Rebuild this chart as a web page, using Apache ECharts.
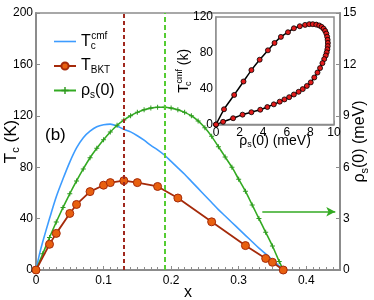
<!DOCTYPE html>
<html><head><meta charset="utf-8">
<script src="https://cdn.jsdelivr.net/npm/echarts@6/dist/echarts.min.js"></script>
<style>html,body{margin:0;padding:0;background:#fff}#c{width:374px;height:300px}</style>
</head><body><div id="c"></div>
<script>
// ---- data ----
const xGreen = [0,0.01,0.02,0.03,0.04,0.05,0.06,0.07,0.08,0.09,0.10,0.11,0.12,0.13,0.14,0.15,0.16,0.17,0.18,0.19,0.20,0.21,0.22,0.23,0.24,0.25,0.26,0.27,0.28,0.29,0.30,0.31,0.32,0.33,0.34,0.35,0.36,0.366];
const rhoS = [0,0.95,1.9,2.8,3.65,4.45,5.2,5.9,6.55,7.1,7.6,8.05,8.45,8.75,9.0,9.2,9.35,9.45,9.5,9.5,9.45,9.35,9.2,9.0,8.7,8.3,7.8,7.2,6.6,6.0,5.3,4.6,3.8,3.0,2.2,1.4,0.5,0];
const xBlue = [0,0.005,0.01,0.02,0.03,0.04,0.05,0.06,0.07,0.08,0.09,0.10,0.11,0.12,0.13,0.14,0.15,0.16,0.17,0.18,0.19,0.20,0.21,0.22,0.23,0.24,0.25,0.26,0.27,0.28,0.29,0.30,0.31,0.32,0.33,0.34,0.35,0.36,0.366];
const tcCmf = [0,12,22,40,57,71,84,95,103,108,111.5,113,113.5,112,109.5,107.5,104.5,101,97,93.5,89.5,84.5,79.5,74.5,69,63.5,58,52.5,47,42,37,32,27,22,17,12.5,8,3,0];
const xRed = [0,0.02,0.03,0.05,0.06,0.08,0.10,0.11,0.13,0.15,0.18,0.21,0.26,0.31,0.34,0.35,0.366];
const tBKT = [0,20,28.5,44,51,61,66,68,69.5,68,65,56,37.5,19,9,6,0];
const insetRho = [0,0.68,1.54,2.33,3.0,3.7,4.4,4.96,5.5,6.1,6.6,7.1,7.55,7.9,8.2,8.5,8.75,8.95,9.12,9.25,9.35,9.42,9.46,9.48,9.47,9.44,9.38,9.3,9.17,9.02,8.82,8.6,8.33,8.03,7.7,7.35,7.0,6.6,6.2,5.8,5.4,4.9,4.35,3.75,3.0,2.25,1.45,0.6,0];
const insetTc = [0,17,33,48,60.7,72.3,82.8,91,97.8,103,107.4,109.7,111.2,112,112,111.5,110.5,109,107,104.5,101.5,98,94.5,91,87.5,84,80.5,77,73,68.5,63,58,52.5,47,43,39.5,36.5,33.5,30.5,28,25.5,22.5,19.5,16.5,13.7,11,7,3,0];
const markX = [0.13, 0.19];
const arrowFrom = [0.335, 3.4], arrowTo = [0.443, 3.4];

const F = "'Liberation Sans', Arial, Helvetica, sans-serif";
const GRAY = '#8c8c8c';
const zip = (a, b) => a.map((v, i) => [v, b[i]]);

const rich = {
  b: {fontSize: 16, fontFamily: F, color: '#000'},
  sub: {fontSize: 10, fontFamily: F, color: '#000', padding: [9, 0, 0, 0]},
  subz: {fontSize: 10, fontFamily: F, color: '#000', padding: [9, 0, 0, 0], width: 0.5},
  sup: {fontSize: 10, fontFamily: F, color: '#000', padding: [0, 0, 11, 0]}
};
const richS = {
  b: {fontSize: 14, fontFamily: F, color: '#000'},
  sub: {fontSize: 9, fontFamily: F, color: '#000', padding: [8, 0, 0, 0]},
  subz: {fontSize: 9, fontFamily: F, color: '#000', padding: [8, 0, 0, 0], width: 0.5},
  sup: {fontSize: 9, fontFamily: F, color: '#000', padding: [0, 0, 10, 0]}
};
const legendNames = {
  'Tcmf': '{b|T}{subz|c}{sup|cmf}',
  'TBKT': '{b|T}{sub|BKT}',
  'rho': '{b|ρ}{sub|s}{b|(0)}'
};
const axisCommon = {
  axisLine: {show: true, lineStyle: {color: GRAY, width: 2}},
  axisTick: {show: true, inside: true, length: 4, lineStyle: {color: GRAY, width: 1}},
  splitLine: {show: false},
  nameMoveOverlap: false,
  axisLabel: {color: '#000', fontSize: 12, fontFamily: F}
};

const chart = echarts.init(document.getElementById('c'), null, {renderer: 'canvas'});
chart.setOption({
  animation: false,
  backgroundColor: '#fff',
  grid: [
    {left: 36, right: 34, top: 13, bottom: 30, show: true, borderColor: GRAY, borderWidth: 1.5, backgroundColor: 'transparent', outerBoundsMode: 'none', containLabel: false},
    {left: 216, right: 40, top: 17, bottom: 175.5, show: true, borderColor: GRAY, borderWidth: 1.5, backgroundColor: '#fff', z: 5, outerBoundsMode: 'none', containLabel: false}
  ],
  legend: {
    left: 48, top: 26, orient: 'vertical', itemGap: 7, itemWidth: 22, itemHeight: 9,
    data: [{name: 'Tcmf', icon: 'path://M0,0L22,0L22,1.6L0,1.6Z'}, 'TBKT', 'rho'],
    formatter: n => legendNames[n],
    textStyle: {rich: rich, fontFamily: F, fontSize: 16}
  },
  xAxis: [
    Object.assign({}, axisCommon, {
      type: 'value', gridIndex: 0, min: 0, max: 0.45, interval: 0.1,
      minorTick: {show: true, splitNumber: 10, length: 3, lineStyle: {color: GRAY}},
      axisLabel: Object.assign({}, axisCommon.axisLabel, {margin: 5, showMaxLabel: false, formatter: v => String(Math.round(v*10)/10)}),
      name: 'x', nameLocation: 'middle', nameGap: 15,
      nameTextStyle: {fontSize: 16, fontFamily: F, color: '#000'}
    }),
    Object.assign({}, axisCommon, {
      type: 'value', gridIndex: 1, min: 0, max: 10, interval: 2,
      axisLine: {show: true, lineStyle: {color: GRAY, width: 1.5}},
      axisLabel: Object.assign({}, axisCommon.axisLabel, {margin: 2}),
      name: '{b|ρ}{sub|s}{b|(0) (meV)}', nameLocation: 'middle', nameGap: 8,
      nameTextStyle: {rich: richS}
    })
  ],
  yAxis: [
    Object.assign({}, axisCommon, {
      type: 'value', gridIndex: 0, min: 0, max: 200, interval: 40,
      axisLabel: Object.assign({}, axisCommon.axisLabel, {margin: 3}),
      name: '{b|T}{sub|c}{b| (K)}', nameLocation: 'middle', nameGap: 15, nameRotate: 90,
      nameTextStyle: {rich: {b: {fontSize: 17, fontFamily: F, color: '#000'}, sub: {fontSize: 11, fontFamily: F, color: '#000', padding: [9,0,0,0]}}}
    }),
    Object.assign({}, axisCommon, {
      type: 'value', gridIndex: 0, position: 'right', min: 0, max: 15, interval: 3,
      axisLabel: Object.assign({}, axisCommon.axisLabel, {margin: 3}),
      name: '{b|ρ}{sub|s}{b|(0) (meV)}', nameLocation: 'middle', nameGap: 10, nameRotate: 90,
      nameTextStyle: {rich: {b: {fontSize: 16, fontFamily: F, color: '#000'}, sub: {fontSize: 11, fontFamily: F, color: '#000', padding: [9,0,0,0]}}}
    }),
    Object.assign({}, axisCommon, {
      type: 'value', gridIndex: 1, min: 0, max: 120, interval: 40,
      axisLine: {show: true, lineStyle: {color: GRAY, width: 1.5}},
      axisLabel: Object.assign({}, axisCommon.axisLabel, {margin: 3}),
      name: '{b|T}{subz|c}{sup|cmf}{b| (k)}', nameLocation: 'middle', nameGap: 22, nameRotate: 90,
      nameTextStyle: {rich: richS}
    })
  ],
  graphic: [
    {type: 'text', left: 45, top: 127, style: {text: '(b)', fontSize: 17, fontFamily: F, fill: '#000'}}
  ],
  series: [
    {
      name: 'Tcmf', type: 'line', xAxisIndex: 0, yAxisIndex: 0, data: zip(xBlue, tcCmf),
      showSymbol: false, symbol: 'none', smooth: 0.3,
      lineStyle: {color: '#3d9cff', width: 1.6}, itemStyle: {color: '#3d9cff'}, z: 2
    },
    {
      name: 'rho', type: 'line', xAxisIndex: 0, yAxisIndex: 1, data: zip(xGreen, rhoS),
      symbol: 'path://M-0.6,-3L0.6,-3L0.6,-0.6L3,-0.6L3,0.6L0.6,0.6L0.6,3L-0.6,3L-0.6,0.6L-3,0.6L-3,-0.6L-0.6,-0.6Z',
      symbolSize: 5, smooth: 0.2,
      lineStyle: {color: '#33aa22', width: 1.6}, itemStyle: {color: '#2e9a1e'}, z: 3,
      markLine: {
        silent: true, label: {show: false}, animation: false,
        data: [
          [{xAxis: markX[1], yAxis: 0, symbol: 'none', lineStyle: {color: '#55cc33', type: [5, 3], width: 2}},
           {xAxis: markX[1], yAxis: 15, symbol: 'none'}],
          [{coord: arrowFrom, symbol: 'none', lineStyle: {color: '#33aa22', type: 'solid', width: 1.6}},
           {coord: arrowTo, symbol: 'arrow', symbolSize: [7, 9]}]
        ]
      }
    },
    {
      name: 'TBKT', type: 'line', xAxisIndex: 0, yAxisIndex: 0, data: zip(xRed, tBKT),
      symbol: 'circle', symbolSize: 8,
      lineStyle: {color: '#a52a0a', width: 1.8},
      itemStyle: {color: '#e8600f', borderColor: '#a52a0a', borderWidth: 1}, z: 4,
      markLine: {
        silent: true, label: {show: false}, animation: false, symbol: 'none',
        lineStyle: {color: '#a0281e', type: [4, 3], width: 2},
        data: [[{xAxis: markX[0], yAxis: 0}, {xAxis: markX[0], yAxis: 200}]]
      }
    },
    {
      name: 'inset', type: 'line', xAxisIndex: 1, yAxisIndex: 2, data: zip(insetRho, insetTc),
      symbol: 'circle', symbolSize: 5, smooth: 0.2,
      lineStyle: {color: '#000', width: 1.5},
      itemStyle: {color: '#e21b1b', borderColor: '#000', borderWidth: 0.8}, z: 6
    }
  ]
});
</script></body></html>
